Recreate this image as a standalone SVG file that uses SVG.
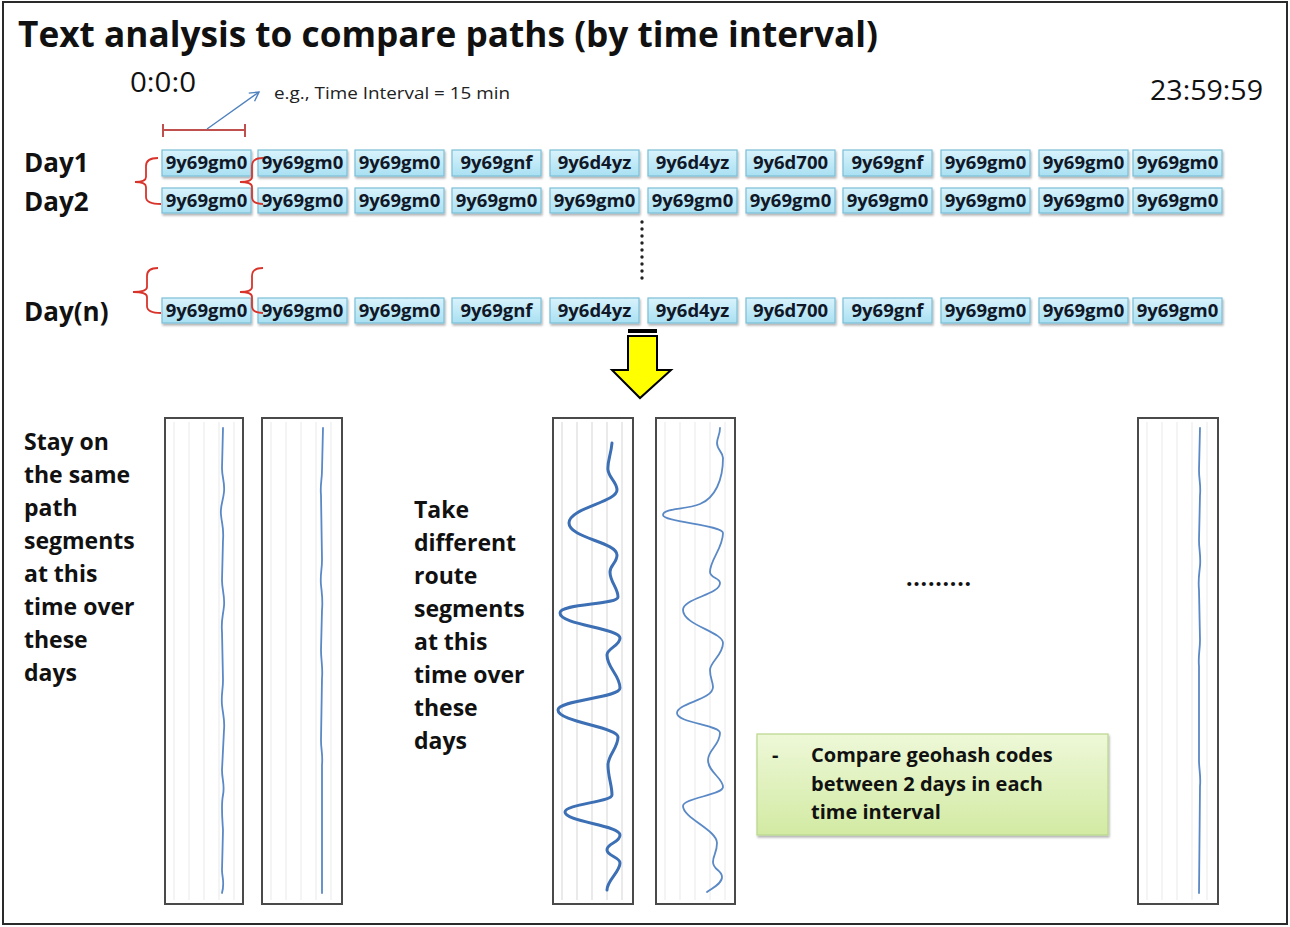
<svg xmlns="http://www.w3.org/2000/svg" width="1290" height="927" viewBox="0 0 1290 927">
  <defs>
    <linearGradient id="cellFill" x1="0" y1="0" x2="0" y2="1">
      <stop offset="0" stop-color="#d9f3fc"/>
      <stop offset="1" stop-color="#a9e0f2"/>
    </linearGradient>
    <linearGradient id="noteFill" x1="0" y1="0" x2="0" y2="1">
      <stop offset="0" stop-color="#eef8d8"/>
      <stop offset="1" stop-color="#d2eaa3"/>
    </linearGradient>
    <filter id="shadow" x="-10%" y="-20%" width="120%" height="160%">
      <feDropShadow dx="1" dy="2" stdDeviation="1.3" flood-color="#000" flood-opacity="0.3"/>
    </filter>
    <marker id="openHead" viewBox="0 0 12 12" refX="10" refY="6" markerWidth="12" markerHeight="12" markerUnits="userSpaceOnUse" orient="auto">
      <path d="M1,1 L10,6 L1,11" fill="none" stroke="#4f81bd" stroke-width="1.4"/>
    </marker>
    <style>
      .title { font-family: "Open Sans", "Liberation Sans", sans-serif; font-weight: 700; font-size: 35px; fill: #111; }
      .clock { font-family: "Open Sans", "Liberation Sans", sans-serif; font-size: 27px; fill: #111; }
      .note { font-family: "Open Sans", "Liberation Sans", sans-serif; font-size: 17px; fill: #222; }
      .day { font-family: "Open Sans", "Liberation Sans", sans-serif; font-weight: 700; font-size: 26px; fill: #111; }
      .cell rect { fill: url(#cellFill); stroke: #7cbfd8; stroke-width: 1.2; filter: url(#shadow); }
      .cell text { font-family: "Open Sans", "Liberation Sans", sans-serif; font-weight: 700; font-size: 18.5px; fill: #101828; text-anchor: middle; }
      .brace { fill: none; stroke: #d9342b; stroke-width: 1.8; }
      .body { font-family: "Open Sans", "Liberation Sans", sans-serif; font-weight: 700; font-size: 23px; fill: #111; }
      .panel { fill: #fff; stroke: #4a4a4a; stroke-width: 2; }
      .grid { stroke: #ededed; stroke-width: 1.2; }
      .grid.dark { stroke: #dcdcdc; }
      .track { fill: none; stroke: #5a89c6; stroke-width: 1.8; stroke-linecap: round; }
      .track.bold { stroke: #3c6fb4; stroke-width: 3; }
    </style>
  </defs>

  <rect x="0" y="0" width="1290" height="927" fill="#fff"/>
  <rect x="3" y="2" width="1284" height="922" fill="none" stroke="#2a2a2a" stroke-width="2"/>

  <!-- heading and time axis -->
  <g id="heading">
    <text class="title" x="18" y="47" textLength="860" lengthAdjust="spacingAndGlyphs">Text analysis to compare paths (by time interval)</text>
  </g>
  <g id="time-start"><text class="clock" x="130" y="92" textLength="66" lengthAdjust="spacingAndGlyphs">0:0:0</text></g>
  <g id="time-end"><text class="clock" x="1150" y="100" textLength="113" lengthAdjust="spacingAndGlyphs">23:59:59</text></g>
  <g id="interval-note"><text class="note" x="274" y="99" textLength="236" lengthAdjust="spacingAndGlyphs">e.g., Time Interval = 15 min</text></g>
  <g id="interval-bar">
    <path d="M163,130 H245 M163,124 V137 M245,124 V137" fill="none" stroke="#c0504d" stroke-width="2"/>
  </g>

  <!-- day labels -->
  <g id="label-day1"><text class="day" x="24" y="172">Day1</text></g>
  <g id="label-day2"><text class="day" x="24" y="211">Day2</text></g>
  <g id="label-dayn"><text class="day" x="24" y="321">Day(n)</text></g>

  <!-- geohash cells: Day1 -->
  <g id="row-day1" class="cell">
    <rect x="162" y="150" width="89" height="26"/><text x="206.5" y="169">9y69gm0</text>
    <rect x="258" y="150" width="89" height="26"/><text x="302.5" y="169">9y69gm0</text>
    <rect x="355" y="150" width="89" height="26"/><text x="399.5" y="169">9y69gm0</text>
    <rect x="452" y="150" width="89" height="26"/><text x="496.5" y="169">9y69gnf</text>
    <rect x="550" y="150" width="89" height="26"/><text x="594.5" y="169">9y6d4yz</text>
    <rect x="648" y="150" width="89" height="26"/><text x="692.5" y="169">9y6d4yz</text>
    <rect x="746" y="150" width="89" height="26"/><text x="790.5" y="169">9y6d700</text>
    <rect x="843" y="150" width="89" height="26"/><text x="887.5" y="169">9y69gnf</text>
    <rect x="941" y="150" width="89" height="26"/><text x="985.5" y="169">9y69gm0</text>
    <rect x="1039" y="150" width="89" height="26"/><text x="1083.5" y="169">9y69gm0</text>
    <rect x="1133" y="150" width="89" height="26"/><text x="1177.5" y="169">9y69gm0</text>
  </g>

  <!-- geohash cells: Day2 -->
  <g id="row-day2" class="cell">
    <rect x="162" y="188" width="89" height="25"/><text x="206.5" y="207">9y69gm0</text>
    <rect x="258" y="188" width="89" height="25"/><text x="302.5" y="207">9y69gm0</text>
    <rect x="355" y="188" width="89" height="25"/><text x="399.5" y="207">9y69gm0</text>
    <rect x="452" y="188" width="89" height="25"/><text x="496.5" y="207">9y69gm0</text>
    <rect x="550" y="188" width="89" height="25"/><text x="594.5" y="207">9y69gm0</text>
    <rect x="648" y="188" width="89" height="25"/><text x="692.5" y="207">9y69gm0</text>
    <rect x="746" y="188" width="89" height="25"/><text x="790.5" y="207">9y69gm0</text>
    <rect x="843" y="188" width="89" height="25"/><text x="887.5" y="207">9y69gm0</text>
    <rect x="941" y="188" width="89" height="25"/><text x="985.5" y="207">9y69gm0</text>
    <rect x="1039" y="188" width="89" height="25"/><text x="1083.5" y="207">9y69gm0</text>
    <rect x="1133" y="188" width="89" height="25"/><text x="1177.5" y="207">9y69gm0</text>
  </g>

  <!-- geohash cells: Day(n) -->
  <g id="row-dayn" class="cell">
    <rect x="162" y="298" width="89" height="25"/><text x="206.5" y="317">9y69gm0</text>
    <rect x="258" y="298" width="89" height="25"/><text x="302.5" y="317">9y69gm0</text>
    <rect x="355" y="298" width="89" height="25"/><text x="399.5" y="317">9y69gm0</text>
    <rect x="452" y="298" width="89" height="25"/><text x="496.5" y="317">9y69gnf</text>
    <rect x="550" y="298" width="89" height="25"/><text x="594.5" y="317">9y6d4yz</text>
    <rect x="648" y="298" width="89" height="25"/><text x="692.5" y="317">9y6d4yz</text>
    <rect x="746" y="298" width="89" height="25"/><text x="790.5" y="317">9y6d700</text>
    <rect x="843" y="298" width="89" height="25"/><text x="887.5" y="317">9y69gnf</text>
    <rect x="941" y="298" width="89" height="25"/><text x="985.5" y="317">9y69gm0</text>
    <rect x="1039" y="298" width="89" height="25"/><text x="1083.5" y="317">9y69gm0</text>
    <rect x="1133" y="298" width="89" height="25"/><text x="1177.5" y="317">9y69gm0</text>
  </g>

  <!-- connectors: interval pointer, grouping braces, continuation dots, transform arrow -->
  <g id="connectors">
    <line x1="207" y1="129" x2="259" y2="92" stroke="#4f81bd" stroke-width="1.4" marker-end="url(#openHead)"/>
    <path class="brace" d="M158,158 Q146,158 146,166 L146,177 Q146,182 135,182 Q146,182 146,187 L146,197 Q146,204 161,204"/>
    <path class="brace" d="M263,158 Q252,158 252,166 L252,177 Q252,182 240,182 Q252,182 252,187 L252,197 Q252,204 263,204"/>
    <path class="brace" d="M158,268 Q147,268 147,276 L147,287 Q147,292 133,292 Q147,292 147,297 L147,306 Q147,313 161,313"/>
    <path class="brace" d="M263,268 Q252,268 252,276 L252,287 Q252,292 240,292 Q252,292 252,297 L252,306 Q252,313 263,313"/>
    <g fill="#222">
      <circle cx="642" cy="222" r="1.7"/><circle cx="642" cy="229" r="1.7"/><circle cx="642" cy="236" r="1.7"/>
      <circle cx="642" cy="243" r="1.7"/><circle cx="642" cy="250" r="1.7"/><circle cx="642" cy="257" r="1.7"/>
      <circle cx="642" cy="264" r="1.7"/><circle cx="642" cy="271" r="1.7"/><circle cx="642" cy="278" r="1.7"/>
    </g>
    <rect x="628" y="329" width="29" height="4" fill="#000"/>
    <polygon points="628,336 657,336 657,370 671,370 640,398 612,370 628,370" fill="#ffff00" stroke="#000" stroke-width="2" stroke-linejoin="miter"/>
  </g>

  <!-- explanatory text -->
  <g id="same-path-text" class="body">
    <text x="24" y="450">Stay on</text>
    <text x="24" y="483">the same</text>
    <text x="24" y="516">path</text>
    <text x="24" y="549">segments</text>
    <text x="24" y="582">at this</text>
    <text x="24" y="615">time over</text>
    <text x="24" y="648">these</text>
    <text x="24" y="681">days</text>
  </g>
  <g id="different-route-text" class="body">
    <text x="414" y="518">Take</text>
    <text x="414" y="551">different</text>
    <text x="414" y="584">route</text>
    <text x="414" y="617">segments</text>
    <text x="414" y="650">at this</text>
    <text x="414" y="683">time over</text>
    <text x="414" y="716">these</text>
    <text x="414" y="749">days</text>
  </g>
  <g id="ellipsis"><text class="body" x="906" y="586" textLength="65" lengthAdjust="spacing">.........</text></g>

  <!-- interval strips -->
  <g id="strip-1">
    <rect class="panel" x="165" y="418" width="78" height="486"/>
    <path class="grid" d="M174,422 V900 M189,422 V900 M204,422 V900 M219,422 V900 M234,422 V900"/>
    <path class="track" d="M223,428 L222,468 C222,478 225,482 224,492 C223,502 220,506 221,515 C222,525 224,528 223,540 L222,580 C222,590 225,596 224,606 C223,616 221,620 222,632 L223,680 C223,690 221,695 222,705 C223,715 225,720 224,730 L222,770 C222,780 225,785 223,795 C221,805 222,815 223,830 L222,870 C222,878 225,882 222,893"/>
  </g>
  <g id="strip-2">
    <rect class="panel" x="262" y="418" width="80" height="486"/>
    <path class="grid" d="M271,422 V900 M286,422 V900 M301,422 V900 M316,422 V900 M331,422 V900"/>
    <path class="track" d="M323,428 L322,470 C322,480 320,485 321,495 L322,560 C322,570 320,575 321,585 C322,595 323,600 322,610 L321,650 C321,660 323,668 322,678 L321,740 C321,750 323,755 322,765 L322,893"/>
  </g>
  <g id="strip-3">
    <rect class="panel" x="553" y="418" width="80" height="486"/>
    <path class="grid dark" d="M562,422 V900 M577,422 V900 M592,422 V900 M607,422 V900 M622,422 V900"/>
    <path class="track bold" d="M612,443 C611,455 607,462 608,470 C609,478 617,482 617,490 C617,502 569,508 569,523 C569,538 617,542 617,555 C617,563 610,565 610,572 C610,582 618,588 618,597 C618,605 560,603 560,613 C560,625 620,628 620,638 C620,646 607,648 607,655 C607,668 620,675 620,688 C620,698 558,700 558,710 C558,722 618,727 618,737 C618,748 608,755 608,765 C608,777 612,785 612,795 C612,802 565,804 565,812 C565,822 620,825 620,835 C620,843 607,843 607,850 C607,856 620,857 620,863 C620,872 607,880 607,890"/>
  </g>
  <g id="strip-4">
    <rect class="panel" x="656" y="418" width="79" height="486"/>
    <path class="grid" d="M665,422 V900 M680,422 V900 M695,422 V900 M710,422 V900 M725,422 V900"/>
    <path class="track" d="M720,428 C720,435 717,438 717,443 C717,450 723,452 723,458 C723,480 715,498 700,504 C685,510 663,508 663,515 C663,522 723,525 723,533 C723,548 710,560 710,572 C710,578 720,578 720,583 C720,595 683,598 683,610 C683,625 723,632 723,643 C723,655 710,662 710,670 C710,678 713,682 713,687 C713,700 677,703 677,713 C677,723 720,725 720,733 C720,745 708,750 708,760 C708,772 723,778 723,787 C723,795 683,798 683,806 C683,818 717,830 717,843 C717,853 713,855 713,862 C713,870 722,870 722,877 C722,884 712,888 707,892"/>
  </g>
  <g id="strip-n">
    <rect class="panel" x="1138" y="418" width="80" height="486"/>
    <path class="grid" d="M1147,422 V900 M1162,422 V900 M1177,422 V900 M1192,422 V900 M1207,422 V900"/>
    <path class="track" d="M1200,428 L1199,470 C1199,480 1201,485 1200,495 L1199,540 C1199,550 1201,556 1200,566 C1199,576 1198,580 1199,590 L1200,640 C1200,650 1198,656 1199,666 L1199,760 C1199,770 1201,776 1200,786 L1199,893"/>
  </g>

  <!-- comparison note -->
  <g id="compare-note">
    <rect x="757" y="734" width="351" height="101" fill="url(#noteFill)" stroke="#b9d68c" stroke-width="1.2" filter="url(#shadow)"/>
    <g font-family="'Open Sans', 'Liberation Sans', sans-serif" font-weight="700" font-size="20" fill="#111">
      <text x="772" y="762">-</text>
      <text x="811" y="762">Compare geohash codes</text>
      <text x="811" y="791">between 2 days in each</text>
      <text x="811" y="819">time interval</text>
    </g>
  </g>
</svg>
